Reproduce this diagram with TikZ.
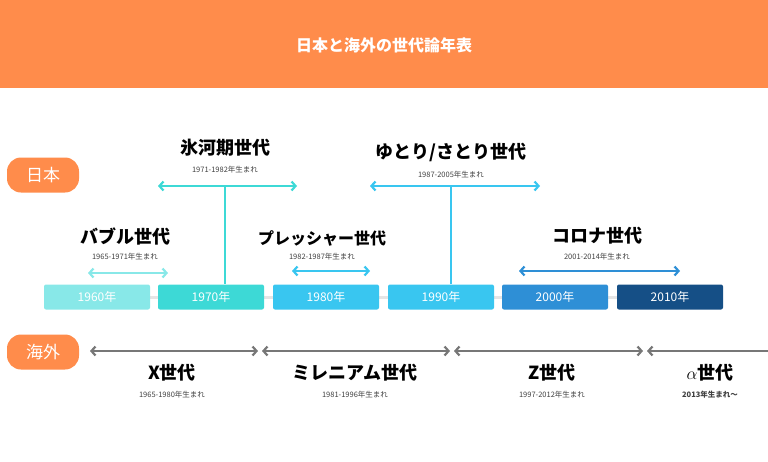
\documentclass[tikz,border=0pt]{standalone}
\usepackage{fontspec}
\setmainfont{Noto Sans CJK JP}
\usetikzlibrary{arrows.meta}
\definecolor{orng}{HTML}{FF8C4B}
\definecolor{cA}{HTML}{88E8E8}
\definecolor{cB}{HTML}{3DD9D6}
\definecolor{cC}{HTML}{39C6F0}
\definecolor{cD}{HTML}{2E8FD6}
\definecolor{cE}{HTML}{154F86}
\definecolor{gry}{HTML}{777777}
\tikzset{
  yr/.style={fill=#1, rounded corners=2pt, minimum width=106pt, minimum height=25pt, inner sep=0pt, text=white, font=\fontsize{12}{12}\selectfont},
  gen/.style={font=\bfseries\fontsize{18}{18}\selectfont},
  sub/.style={font=\fontsize{7.5}{8}\selectfont, text=black!75},
  span/.style={draw=#1, line width=2.2pt, {Straight Barb[length=4pt,width=9pt]}-{Straight Barb[length=4pt,width=9pt]}},
  tag/.style={fill=orng, rounded corners=14pt, minimum width=72pt, minimum height=35pt, text=white, font=\fontsize{17}{17}\selectfont}
}
\begin{document}
\begin{tikzpicture}[x=1pt,y=-1pt]
\useasboundingbox (0,0) rectangle (768,461);
\fill[orng] (0,0) rectangle (768,88);
\node[text=white, font=\bfseries\fontsize{16}{16}\selectfont] (title) at (384,45) {日本と海外の世代論年表};

\node[tag] (jp) at (43,175) {日本};
\node[tag] (os) at (43,352) {海外};

% timeline
\draw[black!10, line width=3pt] (44,297) -- (723,297);
\node[yr=cA] (y60) at (97,297) {1960年};
\node[yr=cB] (y70) at (211,297) {1970年};
\node[yr=cC] (y80) at (326,297) {1980年};
\node[yr=cC] (y90) at (441,297) {1990年};
\node[yr=cD] (y00) at (555,297) {2000年};
\node[yr=cE] (y10) at (670,297) {2010年};

% japan
\node[gen] (bub) at (125,236) {バブル世代};
\node[sub] (bubs) at (125,257) {1965-1971年生まれ};
\coordinate (bubL) at (88,273); \coordinate (bubR) at (168,273);
\draw[span=cA] (bubL) -- (bubR);

\node[gen] (hyo) at (225,148) {氷河期世代};
\node[sub] (hyos) at (225,170) {1971-1982年生まれ};
\coordinate (hyoL) at (158,186); \coordinate (hyoR) at (297,186); \coordinate (hyoM) at (225,186);
\draw[span=cB] (hyoL) -- (hyoR);
\draw[cB, line width=2pt] (hyoM) -- (hyoM |- y70.north);

\node[gen, font=\bfseries\fontsize{16}{16}\selectfont] (pre) at (322,238) {プレッシャー世代};
\node[sub] (pres) at (322,257) {1982-1987年生まれ};
\coordinate (preL) at (292,271); \coordinate (preR) at (370,271);
\draw[span=cC] (preL) -- (preR);

\node[gen] (yut) at (451,152) {ゆとり/さとり世代};
\node[sub] (yuts) at (451,175) {1987-2005年生まれ};
\coordinate (yutL) at (370,186); \coordinate (yutR) at (540,186); \coordinate (yutM) at (451,186);
\draw[span=cC] (yutL) -- (yutR);
\draw[cC, line width=2pt] (yutM) -- (yutM |- y90.north);

\node[gen] (cor) at (597,236) {コロナ世代};
\node[sub] (cors) at (597,257) {2001-2014年生まれ};
\coordinate (corL) at (519,271); \coordinate (corR) at (680,271);
\draw[span=cD] (corL) -- (corR);

% overseas
\coordinate (o1) at (90,351); \coordinate (o2) at (258,351);
\coordinate (o3) at (262,351); \coordinate (o4) at (450,351);
\coordinate (o5) at (454,351); \coordinate (o6) at (643,351);
\coordinate (o7) at (647,351); \coordinate (o8) at (768,351);
\draw[span=gry] (o1) -- (o2);
\draw[span=gry] (o3) -- (o4);
\draw[span=gry] (o5) -- (o6);
\draw[draw=gry, line width=2.2pt, {Straight Barb[length=4pt,width=9pt]}-] (o7) -- (o8);

\node[gen] (gx) at (172,373) {X世代};
\node[sub] (gxs) at (172,395) {1965-1980年生まれ};
\node[gen] (mil) at (355,373) {ミレニアム世代};
\node[sub] (mils) at (355,395) {1981-1996年生まれ};
\node[gen] (gz) at (552,373) {Z世代};
\node[sub] (gzs) at (552,395) {1997-2012年生まれ};
\node[gen] (ga) at (710,373) {$\alpha$世代};
\node[sub, font=\bfseries\fontsize{7.5}{8}\selectfont] (gas) at (710,395) {2013年生まれ〜};
\end{tikzpicture}
\end{document}
